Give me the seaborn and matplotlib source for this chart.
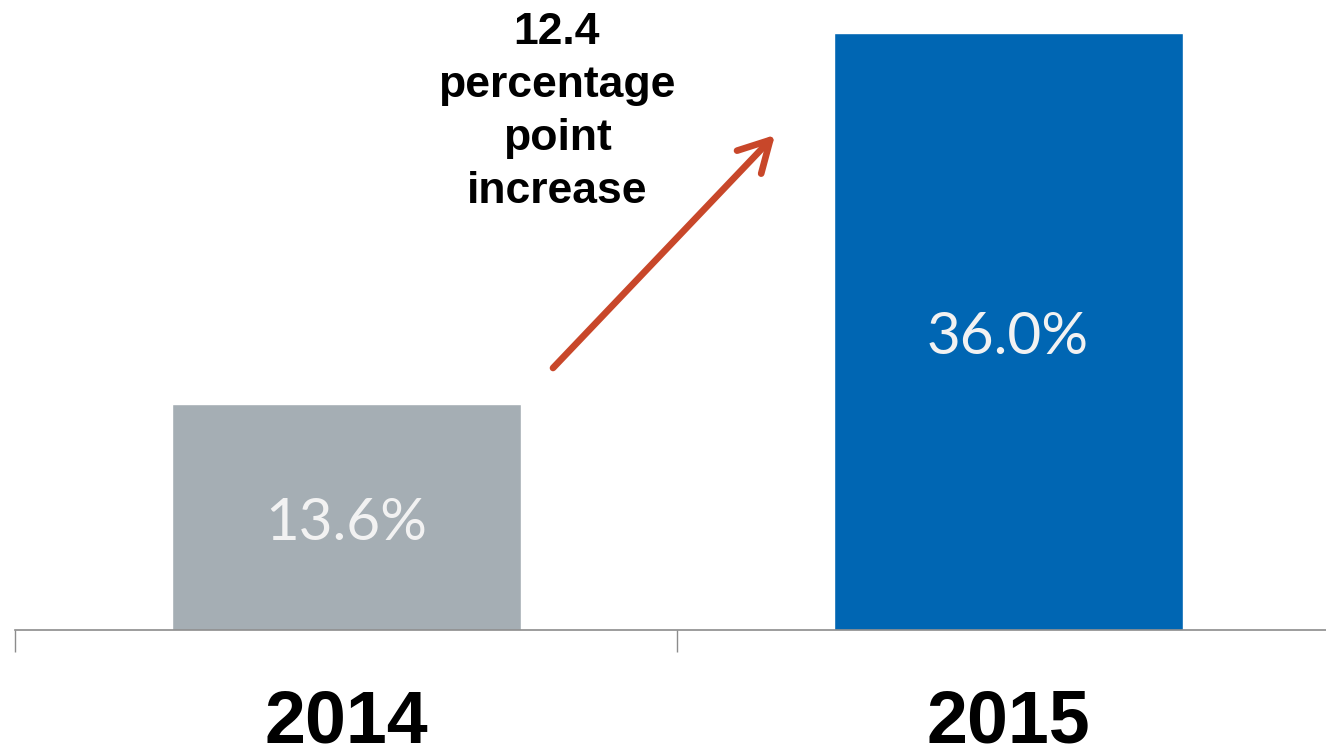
import matplotlib
matplotlib.use("Agg")
import matplotlib.pyplot as plt
import seaborn as sns
import pandas as pd

# Share of respondents by year
years = ["2014", "2015"]
shares = [13.6, 36.0]
bar_colors = ["#A5AEB4", "#0066B3"]
change_label = "12.4\npercentage\npoint\nincrease"

sns.set_theme(style="white")
plt.rcParams["font.family"] = ["Liberation Sans", "DejaVu Sans"]

df = pd.DataFrame({"year": years, "share": shares})

fig = plt.figure(figsize=(13.26, 7.49), dpi=100)
ax = fig.add_axes([15 / 1326, 119 / 749, 1324 / 1326, 630 / 749])

sns.barplot(data=df, x="year", y="share", hue="year", palette=bar_colors,
            width=349 / 662, legend=False, ax=ax, saturation=1)

ax.set_xlim(-0.5, 1.5)
ax.set_ylim(0, 36.0 * 630 / 597)

# value labels centred inside each bar
for cont, v in zip(ax.containers, shares):
    anns = ax.bar_label(cont, labels=[f"{v:.1f}%"], label_type="center",
                        color="#F2F2F2", fontsize=42,
                        family=["Lato", "DejaVu Sans"])
    for a in anns:
        a.xyann = (0, -4.5)

# axis styling: only a bottom line with category-boundary ticks
for side in ["top", "left", "right"]:
    ax.spines[side].set_visible(False)
ax.spines["bottom"].set_color("#8C8C8C")
ax.spines["bottom"].set_linewidth(1.2)
ax.set_yticks([])
ax.set_xticks([-0.5, 0.5, 1.5])
ax.set_xticklabels([])
ax.tick_params(axis="x", which="major", direction="out", length=16,
               width=1.0, color="#8C8C8C", bottom=True)
ax.set_xticks([0, 1], minor=True)
ax.set_xticklabels(years, minor=True, fontsize=53, fontweight="bold",
                   color="#000000")
ax.tick_params(axis="x", which="minor", length=0, pad=42)
ax.set_xlabel("")
ax.set_ylabel("")

# arrow showing the increase
ax.annotate("", xy=(0.648, 29.85), xytext=(0.3127, 15.80),
            arrowprops=dict(arrowstyle="->,head_length=2.2,head_width=1.2",
                            color="#C8472A", lw=4.8, mutation_scale=10,
                            capstyle="round", joinstyle="round",
                            shrinkA=0, shrinkB=0))

fig.text(557 / 1326, 1 - 112 / 749, change_label, ha="center", va="center",
         fontsize=32, fontweight="bold", color="#000000", linespacing=1.38)

fig.savefig("out.png", dpi=100)
